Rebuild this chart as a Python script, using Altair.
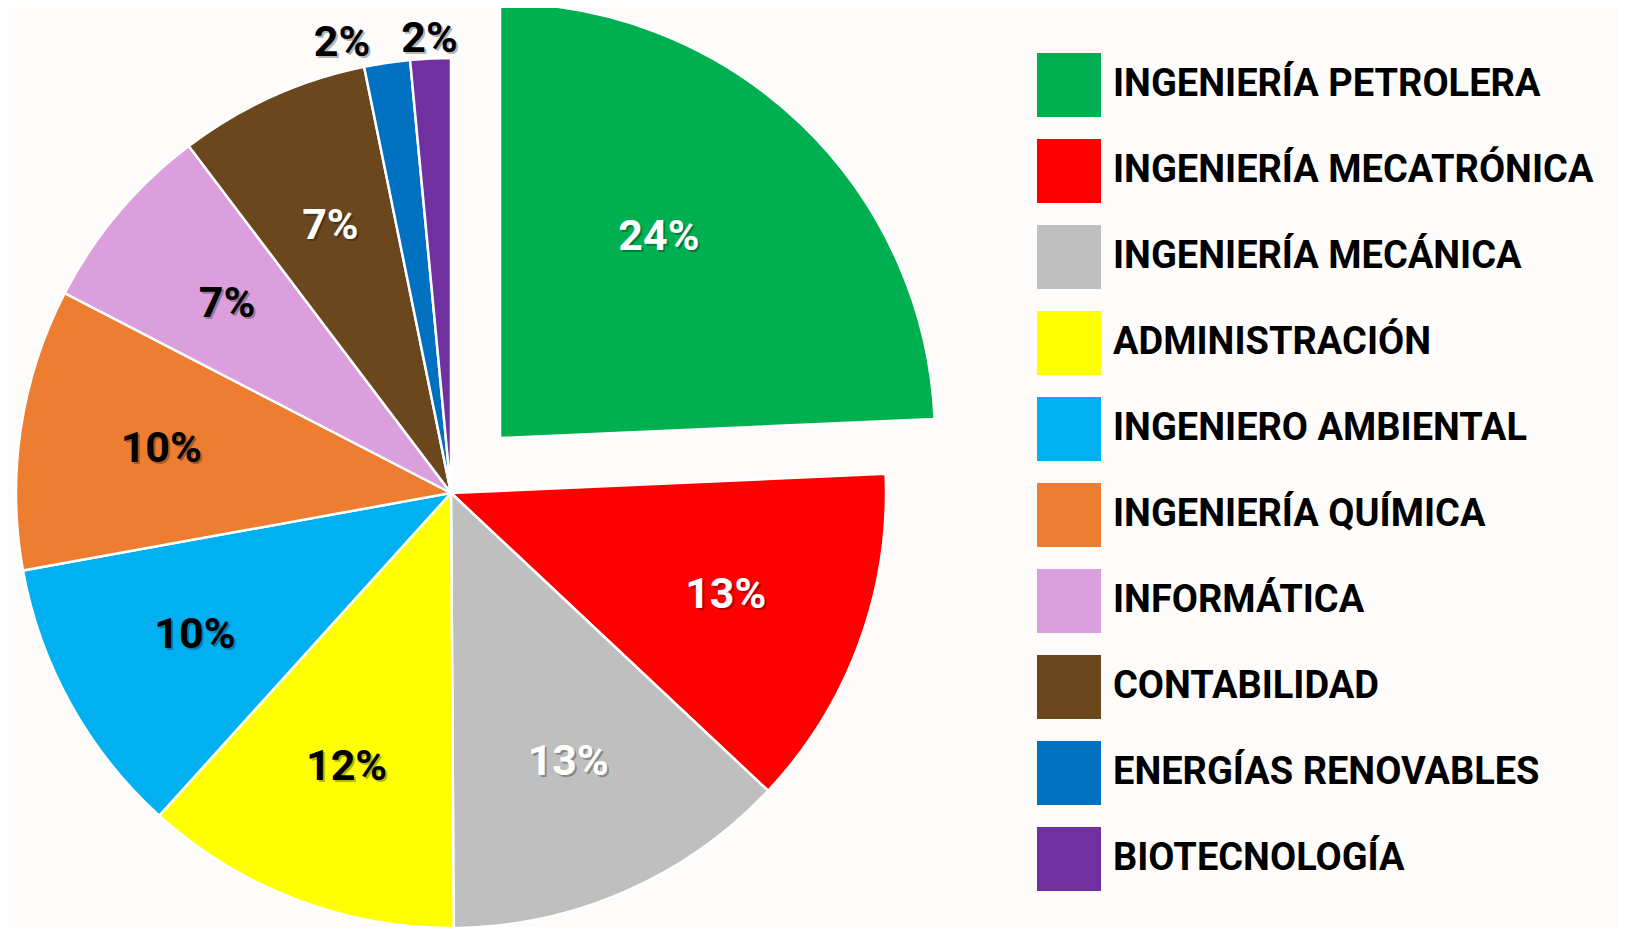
import altair as alt
import pandas as pd

categories = [
    "INGENIERÍA PETROLERA", "INGENIERÍA MECATRÓNICA", "INGENIERÍA MECÁNICA",
    "ADMINISTRACIÓN", "INGENIERO AMBIENTAL", "INGENIERÍA QUÍMICA",
    "INFORMÁTICA", "CONTABILIDAD", "ENERGÍAS RENOVABLES", "BIOTECNOLOGÍA",
]
values = [24.3, 12.7, 12.9, 11.8, 10.45, 10.45, 7.1, 7.1, 1.7, 1.5]
colors = ["#00B050", "#FF0000", "#BFBFBF", "#FFFF00", "#00B0F0",
          "#ED7D31", "#DA9FDC", "#6A471C", "#0070C0", "#7030A0"]
white_label_cats = ["INGENIERÍA PETROLERA", "INGENIERÍA MECATRÓNICA",
                    "INGENIERÍA MECÁNICA", "CONTABILIDAD"]

df = pd.DataFrame({"cat": categories, "value": values, "order": list(range(len(categories)))})

CX, CY, R = 443, 485, 435
EX, EY = 49, -55  # explode offset of first slice
FONT = "Roboto"

theta_scale = alt.Scale(domain=[0, 100], range=[0, 6.283185307])
color_scale = alt.Scale(domain=categories, range=colors)

base = (
    alt.Chart(df)
    .transform_window(cum="sum(value)", sort=[alt.SortField("order")], frame=[None, 0])
    .transform_calculate(
        start="datum.cum - datum.value",
        mid="datum.cum - datum.value / 2",
        label="round(datum.value) + '%'",
    )
)

is_first = alt.datum.cat == categories[0]
is_small = alt.datum.value < 3


def arcs(filt, cx, cy):
    return base.transform_filter(filt).mark_arc(
        radius=R, stroke="white", strokeWidth=2.5
    ).encode(
        theta=alt.Theta("start:Q", scale=theta_scale, stack=None),
        theta2="end:Q",
        color=alt.Color(
            "cat:N", scale=color_scale, sort=categories,
            legend=alt.Legend(
                title=None, orient="none", legendX=1029, legendY=45,
                symbolType="square", symbolSize=4096, symbolStrokeWidth=0,
                symbolOpacity=1, labelFont=FONT, labelFontSize=38,
                labelFontWeight="bold", labelColor="black", labelOffset=12,
                rowPadding=22, padding=0, labelLimit=700,
            ),
        ),
        x=alt.value(cx),
        y=alt.value(cy),
    ).transform_calculate(end="datum.cum")


def labels(filt, cx, cy, r, dx=0, dy=0, shadow=False):
    color = alt.value("rgba(0,0,0,0.3)") if shadow else alt.condition(
        alt.FieldOneOfPredicate(field="cat", oneOf=white_label_cats),
        alt.value("white"), alt.value("black"))
    return base.transform_filter(filt).mark_text(
        radius=r, font=FONT, fontSize=43, fontWeight="bold",
        dx=dx + (2 if shadow else 0), dy=dy + (2 if shadow else 0),
    ).encode(
        theta=alt.Theta("mid:Q", scale=theta_scale, stack=None),
        text="label:N",
        color=color,
        x=alt.value(cx),
        y=alt.value(cy),
    )


layers = [
    arcs(~is_first, CX, CY),
    arcs(is_first, CX + EX, CY + EY),
]
for sh in (True, False):
    layers.append(labels(is_first, CX + EX, CY + EY, 250, dx=-14, dy=-20, shadow=sh))
    layers.append(labels(~is_first & ~is_small, CX, CY, 293, shadow=sh))
    layers.append(labels(alt.datum.cat == categories[8], CX, CY, 455, dx=-42, shadow=sh))
    layers.append(labels(alt.datum.cat == categories[9], CX, CY, 455, shadow=sh))

chart = alt.layer(*layers).properties(
    width=1610, height=919, autosize="none", padding=0, background="#FDFCFA"
).configure_view(stroke=None)

chart.save("out.html", embed_options={"renderer": "svg", "actions": False})
